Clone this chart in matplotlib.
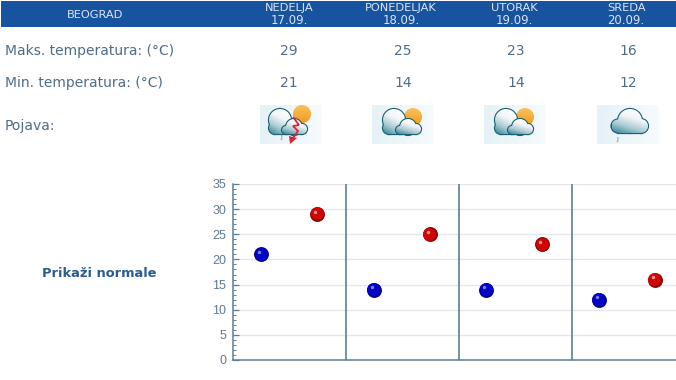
import numpy as np
from matplotlib import pyplot as plt
from matplotlib.colors import LinearSegmentedColormap
from matplotlib.patches import Circle, Rectangle, PathPatch, Polygon
from matplotlib.path import Path
from matplotlib.transforms import offset_copy

city = "BEOGRAD"
days = ["NEDELJA", "PONEDELJAK", "UTORAK", "SREDA"]
dates = ["17.09.", "18.09.", "19.09.", "20.09."]
row_labels = ["Maks. temperatura: (°C)", "Min. temperatura: (°C)", "Pojava:"]
max_temp = [29, 25, 23, 16]
min_temp = [21, 14, 14, 12]
icons = ["storm", "partly", "partly", "rain"]
y_ticks = [0, 5, 10, 15, 20, 25, 30, 35]

HEADER = "#17539f"
TEXT = "#4f6d88"
AXIS = "#5b7f98"

fig = plt.figure(figsize=(6.76, 3.80), dpi=100)

# whole figure in pixels, for the table part
page = fig.add_axes([0, 0, 1, 1])
page.set_xlim(0, 676)
page.set_ylim(380, 0)
page.axis("off")
page.set_autoscale_on(False)

page.add_patch(Rectangle((1, 1), 675, 26, fc=HEADER, ec="none"))
page.text(95, 14.5, city, color="#dbe6f2", fontsize=8.2, ha="center", va="center")

col_x = [289, 401, 514, 626]
num_x = [289, 403, 516, 628]
box_x = [260, 372, 484, 597]

for i in range(4):
    page.text(col_x[i], 8, days[i], color="#dbe6f2", fontsize=8.2, ha="center", va="center")
    page.text(col_x[i], 21, dates[i], color="#dbe6f2", fontsize=8.4, ha="center", va="center")
    page.text(num_x[i], 51, str(max_temp[i]), color=TEXT, fontsize=10, ha="center", va="center")
    page.text(num_x[i], 83, str(min_temp[i]), color=TEXT, fontsize=10, ha="center", va="center")

page.text(5, 51, row_labels[0], color=TEXT, fontsize=10, va="center")
page.text(5, 83, row_labels[1], color=TEXT, fontsize=10, va="center")
page.text(5, 126, row_labels[2], color=TEXT, fontsize=10, va="center")
page.text(42, 273.5, "Prikaži normale", color="#2b5c8f", fontsize=9.4, fontweight="bold", va="center")

box_cmap = LinearSegmentedColormap.from_list("box", ["#e6f2f8", "#f6fbfd"])
cloud_cmap = LinearSegmentedColormap.from_list("cloud", ["#ffffff", "#f0f5f7", "#a9cbd3", "#2f8497"])
sun_cmap = LinearSegmentedColormap.from_list("sun", ["#f9c25a", "#f39a1e"])


def gradient_disc(x, y, r):
    im = page.imshow(np.linspace(0, 1, 30).reshape(-1, 1), cmap=sun_cmap, aspect="auto",
                     extent=(x - r, x + r, y + r, y - r), zorder=3)
    im.set_clip_path(Circle((x, y), r, transform=page.transData))


def draw_cloud(x0, y0, bumps, base, zorder):
    # outline circles first, gradient on top hides the inner lines
    verts = []
    for (cx, cy, r) in bumps:
        page.add_patch(Circle((x0 + cx, y0 + cy), r, fc="#1d5f73", ec="#1d5f73", lw=1.6, zorder=zorder))
        verts.append(Path.circle((x0 + cx, y0 + cy), r))
    l, t, r, b = base
    page.add_patch(Rectangle((x0 + l, y0 + t), r - l, b - t, fc="#1d5f73", ec="#1d5f73", lw=1.6, zorder=zorder))
    verts.append(Path([(x0 + l, y0 + t), (x0 + r, y0 + t), (x0 + r, y0 + b), (x0 + l, y0 + b), (x0 + l, y0 + t)],
                      [Path.MOVETO, Path.LINETO, Path.LINETO, Path.LINETO, Path.CLOSEPOLY]))
    clip = PathPatch(Path.make_compound_path(*verts), transform=page.transData, fc="none", ec="none")
    page.add_patch(clip)
    # diagonal shade, white upper right to teal lower left
    gx, gy = np.meshgrid(np.linspace(0, 1, 40), np.linspace(0, 1, 40))
    left = min(c[0] - c[2] for c in bumps)
    right = max(c[0] + c[2] for c in bumps)
    top = min(c[1] - c[2] for c in bumps)
    im = page.imshow(0.75 * gy + 0.35 * (1 - gx) - 0.1, cmap=cloud_cmap, aspect="auto", vmin=0, vmax=1,
                     extent=(x0 + left, x0 + right, y0 + b, y0 + top), zorder=zorder + 0.1)
    im.set_clip_path(clip)


def draw_icon(x0, kind):
    y0 = 105
    page.imshow(np.linspace(0, 1, 30).reshape(1, -1), cmap=box_cmap, aspect="auto",
                extent=(x0, x0 + 62, y0 + 39, y0), zorder=1)
    if kind == "rain":
        draw_cloud(x0, y0, [(33, 16, 12), (21, 21, 6.5), (44, 21, 7)], (21, 21, 44, 28), 4)
        page.text(x0 + 20, y0 + 34, "J", color="#5a6b70", fontsize=4.5, ha="center", va="center", zorder=6)
        return
    sun_dx = 41 if kind == "partly" else 42
    sun_dy = 12 if kind == "partly" else 9
    gradient_disc(x0 + sun_dx, y0 + sun_dy, 9)
    dx = 0 if kind == "partly" else -2
    draw_cloud(x0 + dx, y0, [(22, 15, 11), (17, 23, 6)], (17, 20, 30, 29), 4)
    draw_cloud(x0 + dx, y0, [(36, 22, 8), (44, 24, 5), (28, 25, 4)], (28, 25, 44, 29), 5)
    if kind == "storm":
        page.add_patch(Polygon([(x0 + 33, y0 + 12), (x0 + 39, y0 + 20), (x0 + 33, y0 + 21), (x0 + 38, y0 + 26),
                                (x0 + 33, y0 + 33)], closed=False, fill=False, ec="#d8253a", lw=1.3, zorder=7))
        page.add_patch(Polygon([(x0 + 29, y0 + 31), (x0 + 37, y0 + 33), (x0 + 30, y0 + 39)],
                               fc="#d8253a", ec="none", zorder=7))
        page.text(x0 + 21, y0 + 32, "J", color="#5a6b70", fontsize=4.5, ha="center", va="center", zorder=6)


for i in range(4):
    draw_icon(box_x[i], icons[i])

# chart
ax = fig.add_axes([233 / 676, 20 / 380, 443 / 676, 176 / 380])
ax.patch.set_alpha(0)
ax.set_xlim(0, 443 / 113)
ax.set_ylim(0, 35)
for s in ["top", "right"]:
    ax.spines[s].set_visible(False)
for s in ["left", "bottom"]:
    ax.spines[s].set_color(AXIS)
    ax.spines[s].set_linewidth(1.1)

ax.set_xticks([])
ax.set_yticks(y_ticks)
ax.set_yticks(np.arange(0, 36), minor=True)
ax.tick_params(axis="y", which="major", direction="in", length=4.5, width=0.9, color=AXIS,
               labelsize=9, labelcolor="#5d7b96", pad=5)
ax.tick_params(axis="y", which="minor", direction="in", length=2.2, width=0.7, color=AXIS)
for label in ax.get_yticklabels():
    label.set_family("Liberation Sans")

for t in y_ticks[1:]:
    ax.axhline(t, color="#e2e8ec", lw=1, zorder=1)
for i in range(1, 4):
    ax.axvline(i, color=AXIS, lw=1.2, zorder=2)

days_idx = np.arange(len(days)) * 0.9956


def marbles(x, y, dark, mid, light):
    ax.scatter(x, y, s=115, color=dark, lw=0, zorder=4, clip_on=False)
    t1 = offset_copy(ax.transData, fig=fig, x=-0.3, y=0.5, units="points")
    ax.scatter(x, y, s=85, color=mid, lw=0, zorder=5, transform=t1, clip_on=False)
    t2 = offset_copy(ax.transData, fig=fig, x=-1.5, y=1.7, units="points")
    ax.scatter(x, y, s=6, color=light, lw=0, zorder=6, transform=t2, clip_on=False)


marbles(days_idx + 0.25, min_temp, "#00008c", "#0404c4", "#7c7cec")
marbles(days_idx + 0.745, max_temp, "#8c0000", "#d00606", "#f09090")

fig.savefig("out.png", dpi=100)
